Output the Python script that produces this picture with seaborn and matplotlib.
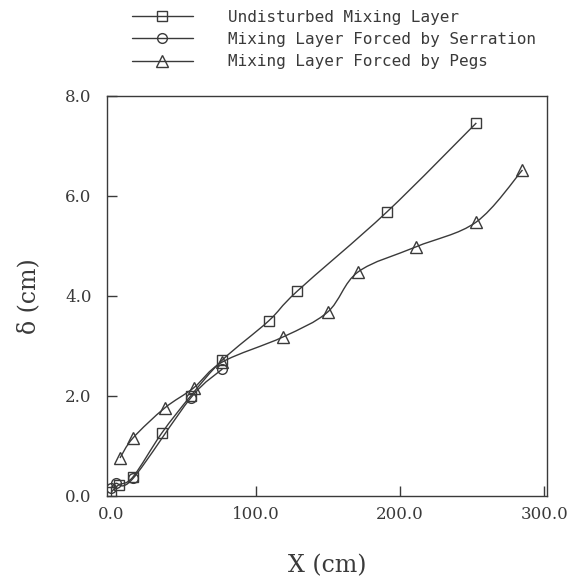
import numpy as np
import matplotlib
matplotlib.use("Agg")
import matplotlib.pyplot as plt
import seaborn as sns
from matplotlib.path import Path
from matplotlib.patches import PathPatch
from matplotlib.lines import Line2D

# data
x_undisturbed = [0, 5, 15, 35, 55, 77, 109, 129, 191, 253]
y_undisturbed = [0.08, 0.22, 0.38, 1.26, 2.00, 2.72, 3.50, 4.10, 5.68, 7.46]

x_serration = [0, 3, 15, 55, 77]
y_serration = [0.15, 0.25, 0.35, 1.96, 2.54]

x_pegs = [6, 15, 37, 57, 77, 119, 150, 171, 211, 253, 285]
y_pegs = [0.76, 1.16, 1.76, 2.16, 2.68, 3.18, 3.68, 4.48, 4.98, 5.48, 6.52]

labels = ["Undisturbed Mixing Layer",
          "Mixing Layer Forced by Serration",
          "Mixing Layer Forced by Pegs"]
markers = ["s", "o", "^"]
msizes = [7, 7, 8]
ink = "#3a3a3a"

sns.set_theme(style="ticks")
plt.rcParams["font.family"] = "DejaVu Serif"


def smooth_path(xs, ys):
    # catmull-rom segments as cubic beziers (drawing only)
    p = np.column_stack([xs, ys]).astype(float)
    n = len(p)
    verts = [p[0]]
    codes = [Path.MOVETO]
    for i in range(n - 1):
        p0 = p[i - 1] if i > 0 else p[i]
        p1, p2 = p[i], p[i + 1]
        p3 = p[i + 2] if i + 2 < n else p[i + 1]
        verts += [p1 + (p2 - p0) / 6, p2 - (p3 - p1) / 6, p2]
        codes += [Path.CURVE4] * 3
    return Path(verts, codes)


fig = plt.figure(figsize=(5.81, 5.79), dpi=100)
ax = fig.add_axes([0.1842, 0.1434, 0.7573, 0.6909])

series = [(x_undisturbed, y_undisturbed), (x_serration, y_serration), (x_pegs, y_pegs)]
for (xs, ys), m, ms in zip(series, markers, msizes):
    ax.add_patch(PathPatch(smooth_path(xs, ys), fill=False, edgecolor=ink, lw=1.0))
    sns.lineplot(x=xs, y=ys, ax=ax, estimator=None, sort=False, linestyle="none",
                 marker=m, markersize=ms, markerfacecolor="none",
                 markeredgecolor=ink, markeredgewidth=1.0, color=ink)

ax.set_xlim(-3, 302)
ax.set_ylim(0, 8)
ax.set_xticks([0, 100, 200, 300])
ax.set_yticks([0, 2, 4, 6, 8])
ax.set_xticklabels(["0.0", "100.0", "200.0", "300.0"])
ax.set_yticklabels(["0.0", "2.0", "4.0", "6.0", "8.0"])
ax.tick_params(direction="in", length=7, width=1, colors=ink, labelsize=12)
ax.tick_params(axis="x", pad=7)
ax.tick_params(axis="y", pad=11)
for s in ax.spines.values():
    s.set_color(ink)
    s.set_linewidth(1.0)

ax.set_xlabel("X (cm)", fontsize=17, color=ink, labelpad=23)
ax.set_ylabel("δ (cm)", fontsize=17, color=ink, labelpad=18)

handles = [Line2D([], [], color=ink, lw=1.0, marker=m, markersize=ms,
                  markerfacecolor="none", markeredgecolor=ink)
           for m, ms in zip(markers, msizes)]
fig.legend(handles, labels, loc="upper left", bbox_to_anchor=(132 / 581, 0.983),
           frameon=False, numpoints=1, handlelength=3.8, handletextpad=2.2,
           borderpad=0, borderaxespad=0, labelspacing=0.45,
           prop={"family": "DejaVu Sans Mono", "size": 11.5}, labelcolor=ink)

fig.savefig("out.png", dpi=100)
